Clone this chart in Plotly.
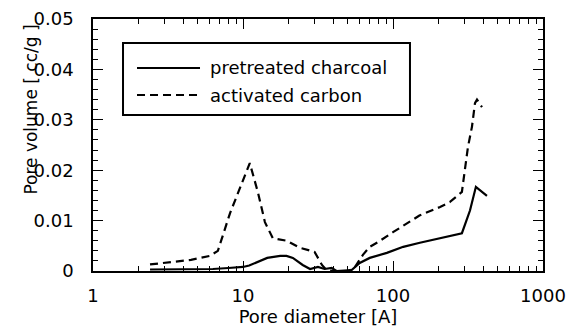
import plotly.graph_objects as go

# ---- data ----
ac_x = [2.4, 3.3, 4.5, 6.0, 6.8, 8.2, 9.3, 11.1, 12.6, 14.0, 15.8, 19.6, 24, 30, 33.6, 36, 40, 50, 55, 63, 70, 80, 100, 124, 150, 206, 240, 288, 302, 316, 336, 352, 363, 392]
ac_y = [0.0013, 0.0018, 0.0022, 0.0030, 0.0040, 0.0115, 0.0155, 0.0214, 0.0155, 0.0097, 0.0065, 0.0060, 0.0046, 0.0038, 0.0012, 0.0002, 0.0, 0.0, 0.0005, 0.0032, 0.0048, 0.0058, 0.0077, 0.0095, 0.0110, 0.0127, 0.0137, 0.0157, 0.0200, 0.0246, 0.0286, 0.0333, 0.0340, 0.0325]

pc_x = [2.4, 6.3, 8.0, 10.0, 11.0, 12.4, 14.5, 17.7, 19.5, 21.5, 25, 28, 31.6, 35, 39, 42, 53, 60, 70, 91, 117, 151, 206, 288, 326, 357, 423]
pc_y = [0.0003, 0.0004, 0.0006, 0.0008, 0.0011, 0.0018, 0.0026, 0.0030, 0.0030, 0.0026, 0.0012, 0.0004, 0.0008, 0.0004, 0.0006, 0.0, 0.0002, 0.0016, 0.0026, 0.0036, 0.0048, 0.0056, 0.0065, 0.0075, 0.0120, 0.0167, 0.0149]

series_names = ["pretreated charcoal", "activated carbon"]
x_tickvals = [1, 10, 100, 1000]
x_ticktext = ["1", "10", "100", "1000"]
x_minor = [m * d for d in (1, 10, 100) for m in range(2, 10)]

FONT = "DejaVu Sans"

fig = go.Figure()
fig.add_trace(go.Scatter(x=pc_x, y=pc_y, mode="lines", name=series_names[0],
                         line=dict(color="black", width=2.2), showlegend=False))
fig.add_trace(go.Scatter(x=ac_x, y=ac_y, mode="lines", name=series_names[1],
                         line=dict(color="black", width=2.2, dash="8px,5px"), showlegend=False))

axis_common = dict(showline=True, linecolor="black", linewidth=1.5, mirror="ticks",
                   ticks="inside", tickcolor="black", tickwidth=1, showgrid=False,
                   zeroline=False, automargin=False,
                   tickfont=dict(family=FONT, size=18, color="black"))

fig.update_xaxes(type="log", range=[0, 3], tickvals=x_tickvals, ticktext=x_ticktext,
                 ticklen=10, ticklabelstandoff=8,
                 minor=dict(tickvals=x_minor, ticks="inside", ticklen=5, tickcolor="black", showgrid=False),
                 title=dict(text="Pore diameter [A]", font=dict(family=FONT, size=18, color="black"), standoff=2),
                 **axis_common)
fig.update_yaxes(range=[0, 0.05], dtick=0.01, ticklen=10, ticklabelstandoff=14,
                 minor=dict(dtick=0.002, ticks="inside", ticklen=5, tickcolor="black", showgrid=False),
                 **axis_common)

# y-axis title (placed as in the reference, slightly above centre)
fig.add_annotation(text="Pore volume [ cc/g ]", textangle=-90, xref="paper", yref="paper",
                   x=-0.138, y=0.64, xanchor="center", yanchor="middle", showarrow=False,
                   font=dict(family=FONT, size=17, color="black"))

# legend box drawn by hand
fig.add_shape(type="rect", xref="paper", yref="paper", x0=0.0667, x1=0.7044, y0=0.619, y1=0.905,
              line=dict(color="black", width=2), fillcolor="white", layer="above")
legend_rows = [(0.8056, "solid"), (0.698, "8px,5px")]
for (yy, dash), name in zip(legend_rows, series_names):
    fig.add_shape(type="line", xref="paper", yref="paper", x0=0.0978, x1=0.2378, y0=yy, y1=yy,
                  line=dict(color="black", width=2, dash=dash), layer="above")
    fig.add_annotation(text=name, xref="paper", yref="paper", x=0.2556, y=yy, xanchor="left",
                       yanchor="middle", showarrow=False, font=dict(family=FONT, size=18, color="black"))

fig.update_layout(width=574, height=333, margin=dict(l=93, r=31, t=19, b=62),
                  plot_bgcolor="white", paper_bgcolor="white", showlegend=False)

fig.write_html("out.html", config={"displayModeBar": False},
               post_script="document.body.style.margin='0';")
